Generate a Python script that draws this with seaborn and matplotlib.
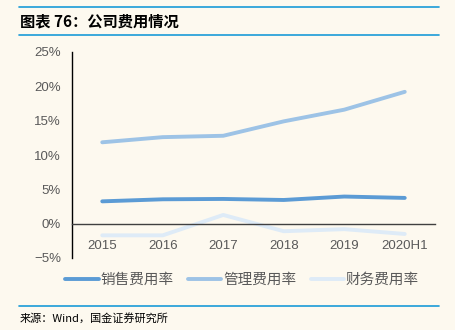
import matplotlib
matplotlib.use("Agg")
import matplotlib.pyplot as plt
import seaborn as sns
import pandas as pd
from matplotlib.lines import Line2D
from matplotlib.ticker import FixedLocator, PercentFormatter

years = ["2015", "2016", "2017", "2018", "2019", "2020H1"]
sales_rate = [3.25, 3.55, 3.6, 3.45, 3.95, 3.75]
admin_rate = [11.85, 12.6, 12.8, 14.9, 16.6, 19.2]
finance_rate = [-1.7, -1.7, 1.27, -1.1, -0.8, -1.5]
series_names = ["销售费用率", "管理费用率", "财务费用率"]
colors = ["#5B9BD5", "#9DC3E6", "#DEEBF7"]

df = pd.DataFrame({
    "year": years * 3,
    "value": sales_rate + admin_rate + finance_rate,
    "series": [series_names[0]] * 6 + [series_names[1]] * 6 + [series_names[2]] * 6,
})

sns.set_style("white")
plt.rcParams['font.family'] = ['Liberation Sans', 'Noto Sans CJK SC', 'DejaVu Sans']
bg = "#FDF9EF"
fig = plt.figure(figsize=(4.56, 3.30), dpi=100, facecolor=bg)
ax = fig.add_axes([72/456, 1-258/330, (435-72)/456, (258-52)/330])
ax.set_facecolor(bg)

sns.lineplot(data=df, x="year", y="value", hue="series", palette=colors,
             linewidth=2.8, ax=ax, legend=False, sort=False)

ax.set_xlim(-0.5, 5.5)
ax.set_ylim(-5, 25)
ax.set_yticks([-5, 0, 5, 10, 15, 20, 25])
ax.yaxis.set_major_formatter(PercentFormatter(decimals=0))
for s in ["top", "right"]:
    ax.spines[s].set_visible(False)
ax.spines["bottom"].set_position(("data", 0))
ax.spines["bottom"].set_color("#404040")
ax.spines["left"].set_color("#000000")
ax.spines["bottom"].set_linewidth(1.0)
ax.spines["left"].set_linewidth(1.0)

ax.xaxis.set_major_locator(FixedLocator([i + 0.5 for i in range(6)]))
ax.xaxis.set_minor_locator(FixedLocator(list(range(6))))
ax.set_xticklabels([])
ax.set_xticklabels(years, minor=True)
ax.tick_params(axis="x", which="major", direction="in", length=4, color="#404040")
ax.tick_params(axis="x", which="minor", length=0, pad=12, labelsize=9.5, labelcolor="#595959")
ax.tick_params(axis="y", direction="in", length=4, color="#000000", labelsize=9.5,
               labelcolor="#595959", pad=8)
ax.set_xlabel("")
ax.set_ylabel("")

handles = [Line2D([0], [0], color=c, lw=2.8) for c in colors]
fig.legend(handles, series_names, loc="center", bbox_to_anchor=(242/456, 1-280/330),
           ncol=3, frameon=False, handlelength=2.3, handletextpad=0.1, columnspacing=1.0,
           prop={"family": ["Noto Sans CJK SC"], "size": 10.5}, labelcolor="#595959")

line_color = "#1A9BD7"
for y in [7, 35, 306]:
    fig.add_artist(Line2D([19/456, 439/456], [1-y/330, 1-y/330], color=line_color, lw=1.2))

fig.text(20/456, 1-21/330, "图表 76：公司费用情况", fontsize=11, fontweight="bold",
         family=["Noto Sans CJK SC"], va="center", ha="left", color="#000000", style="italic")
fig.text(20/456, 1-318/330, "来源：Wind，国金证券研究所", fontsize=8,
         family=["Noto Sans CJK SC"], va="center", ha="left", color="#000000")

fig.savefig("out.png", dpi=100, facecolor=bg)
